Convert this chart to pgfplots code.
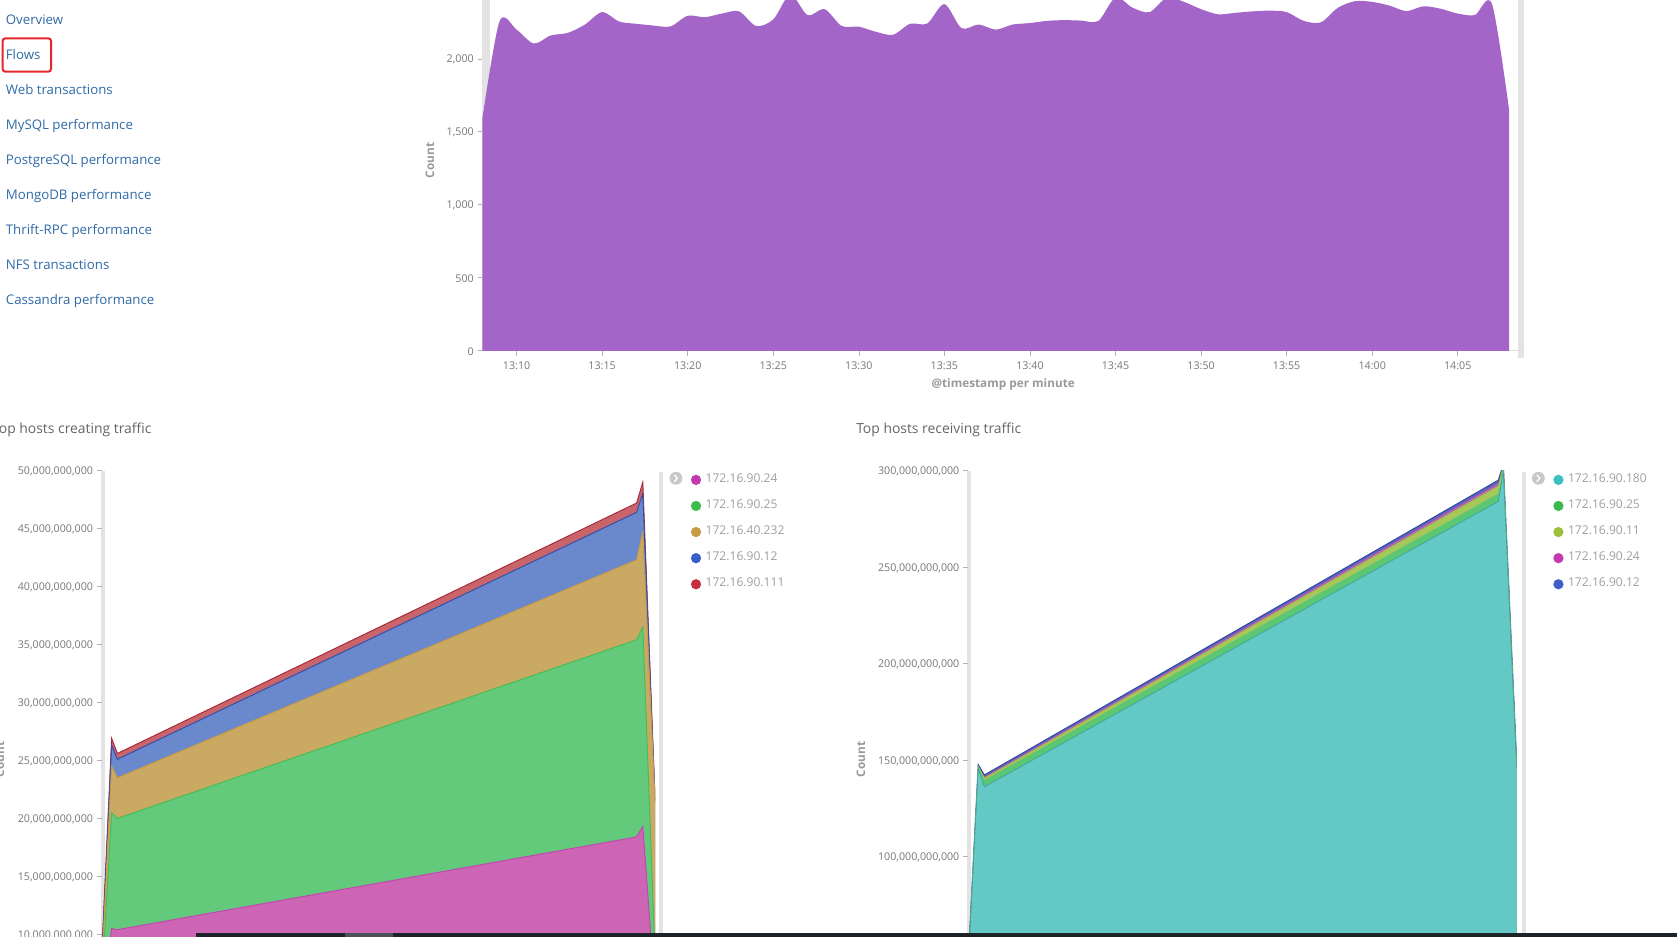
\documentclass[border=0pt]{standalone}
\usepackage{pgfplots}
\pgfplotsset{compat=1.18}
\usepackage{pgfplotstable}
\usepackage{fontspec}
\setmainfont{Open Sans}

\definecolor{linkblue}{HTML}{306BA8}
\definecolor{boxred}{HTML}{E5262B}
\definecolor{titlegray}{HTML}{666666}
\definecolor{tickgray}{HTML}{777777}
\definecolor{axtitlegray}{HTML}{9A9A9A}
\definecolor{legendgray}{HTML}{A0A0A0}
\definecolor{stripgray}{HTML}{E3E3E3}
\definecolor{iconring}{HTML}{C8C8C8}
\definecolor{darkbar}{HTML}{1F2428}
\definecolor{scrollgray}{HTML}{4A5257}
\definecolor{kpurple}{HTML}{A366C8}
% creating traffic
\definecolor{apink}{HTML}{CC66B4}\definecolor{lpink}{HTML}{C23AB0}
\definecolor{agreen}{HTML}{63CA7C}\definecolor{lgreen}{HTML}{3DBB4B}
\definecolor{atan}{HTML}{CAA963}\definecolor{ltan}{HTML}{C99A45}
\definecolor{ablue}{HTML}{6A88CC}\definecolor{lblue}{HTML}{3A5EC9}
\definecolor{ared}{HTML}{CA646B}\definecolor{lred}{HTML}{C4303F}
% receiving traffic
\definecolor{ateal}{HTML}{64C9C5}\definecolor{lteal}{HTML}{3BBFBF}
\definecolor{agreen2}{HTML}{5CC672}\definecolor{lgreen2}{HTML}{3DB84D}
\definecolor{ayg}{HTML}{A6C75A}\definecolor{lyg}{HTML}{9BC13C}
\definecolor{apink2}{HTML}{C062B4}\definecolor{lpink2}{HTML}{C23AB0}
\definecolor{ablue2}{HTML}{6660BE}\definecolor{lblue2}{HTML}{3C5FC8}

\newcommand\sidefont{\fontsize{12.4}{14}\selectfont}
\newcommand\titlefont{\fontsize{13}{15}\selectfont}
\newcommand\tickfont{\fontsize{10}{12}\selectfont}
\newcommand\axtitlefont{\fontsize{11}{13}\selectfont\bfseries}
\newcommand\legfont{\fontsize{11.3}{13}\selectfont}

\pgfplotstableread{
m v
8 1590
9 2255
10 2200
11 2105
12 2160
13 2178
14 2235
15 2320
16 2255
17 2240
18 2228
19 2222
20 2295
21 2285
22 2310
23 2325
24 2225
25 2270
26 2440
27 2300
28 2340
29 2225
30 2220
31 2185
32 2165
33 2240
34 2242
35 2375
36 2210
37 2235
38 2200
39 2235
40 2245
41 2260
42 2265
43 2262
44 2260
45 2420
46 2350
47 2320
48 2420
49 2390
50 2340
51 2305
52 2315
53 2325
54 2330
55 2320
56 2260
57 2250
58 2350
59 2395
60 2390
61 2365
62 2327
63 2360
64 2343
65 2310
66 2300
67 2375
68 1650
}\flows

% cumulative tops, in billions
\pgfplotstableread{
m pink green tan blue red
8.00 4.0 5.5 7.0 7.6 8.0
9.09 10.5 20.5 24.5 26.3 26.9
9.71 10.4 20.0 23.5 25.1 25.6
66.00 18.4 35.4 42.3 46.4 47.2
66.67 19.3 36.5 44.7 48.0 49.0
68.00 5.0 8.0 21.4 21.5 21.6
}\creating

\pgfplotstableread{
m teal green yg pink blue
8.00 40 41 41.5 42 43
9.13 145.5 146.3 146.7 147.0 147.6
9.80 136.2 139.7 140.6 141.3 142.3
66.00 284.0 288.0 292.0 293.3 295.0
66.55 299.5 301.0 302.0 302.5 303.0
68.00 146 147 148 149 150
}\receiving

\pgfplotsset{
  kib/.style={
    scale only axis,
    axis lines*=left,
    y axis line style={draw=none},
    tick align=outside,
    major tick length=4.5pt,
    every tick/.style={draw=black!30, line width=0.6pt},
    tick label style={font=\tickfont, text=tickgray},
    ylabel style={font=\axtitlefont, text=axtitlegray},
    xlabel style={font=\axtitlefont, text=axtitlegray},
    legend image code/.code={\fill[##1, draw=none] (0pt,0pt) circle (4.8pt); \path (8.8pt,0pt);},
    legend style={draw=none, fill=none, inner sep=0pt, outer sep=0pt,
      row sep=13.4pt, column sep=0pt, font=\legfont, text=legendgray,
      anchor=north west, nodes={inner sep=0pt, text height=8pt, text depth=3pt}},
    legend cell align=left,
  }
}

\begin{document}
\begin{tikzpicture}[x=1pt,y=1pt]
\useasboundingbox (0,0) rectangle (1568,876);
\fill[white] (0,0) rectangle (1568,876);

% sidebar links
\foreach \t/\yy in {Overview/18.1, Flows/50.8, Web transactions/83.5, MySQL performance/116.3, PostgreSQL performance/149, MongoDB performance/181.7, Thrift-RPC performance/214.4, NFS transactions/247.1, Cassandra performance/279.9}
  \node[anchor=base west, inner sep=0pt, text=linkblue, font=\sidefont] at (5.3,{876-\yy-4.43}) {\t};
\draw[boxred, line width=1.9pt, rounded corners=2.5pt] (2.5,{876-35.8}) rectangle (47.7,{876-67});

% panel titles
\node[anchor=base west, inner sep=0pt, text=titlegray, font=\titlefont] at (-7.5,{876-401-4.6}) {Top hosts creating traffic};
\node[anchor=base west, inner sep=0pt, text=titlegray, font=\titlefont] at (800.4,{876-401-4.6}) {Top hosts receiving traffic};

% axis strips and separators
\fill[stripgray] (451,548) rectangle (458,876);
\fill[stripgray] (1419,541) rectangle (1425,876);
\fill[stripgray] (94,0) rectangle (98,436);
\fill[stripgray] (616,0) rectangle (620,435);
\fill[stripgray] (904,0) rectangle (908,436);
\fill[stripgray] (1423,0) rectangle (1427,435);

% ---------- top chart ----------
\begin{axis}[kib, at={(451pt,548pt)}, anchor=south west,
  width=972.8pt, height=328pt,
  xmin=8, xmax=68.8, ymin=0, ymax=2403,
  x axis line style={draw=black!12, line width=0.8pt},
  xtick={10,15,...,65},
  xticklabels={13:10,13:15,13:20,13:25,13:30,13:35,13:40,13:45,13:50,13:55,14:00,14:05},
  xticklabel style={yshift=-2pt},
  ytick={0,500,1000,1500,2000},
  yticklabels={0,500,{1,000},{1,500},{2,000}},
  yticklabel style={yshift=-0.8pt},
  xlabel={@timestamp per minute}, ylabel={Count},
  xlabel style={at={(axis description cs:0.5006,-0.0945)}, anchor=center},
  ylabel style={at={(axis description cs:-0.0504,0.5427)}, anchor=center},
]
\addplot[fill=kpurple, draw=none, smooth] table[x=m,y=v]{\flows} \closedcycle;
\end{axis}

% ---------- bottom left ----------
\begin{axis}[kib, at={(95pt,0pt)}, anchor=south west,
  width=517.5pt, height=436pt,
  xmin=8, xmax=68, ymin=9.78, ymax=50,
  x axis line style={draw=none}, xtick=\empty,
  ytick={10,15,...,50},
  yticklabels={{10,000,000,000},{15,000,000,000},{20,000,000,000},{25,000,000,000},{30,000,000,000},{35,000,000,000},{40,000,000,000},{45,000,000,000},{50,000,000,000}},
  yticklabel style={yshift=-0.8pt},
  ylabel={Count},
  ylabel style={at={(axis description cs:-0.1836,0.3807)}, anchor=center},
  legend style={at={(axis description cs:1.0647,0.9927)}},
]
\addplot[fill=ared, draw=none, forget plot] table[x=m,y=red]{\creating} \closedcycle;
\addplot[lred!85!black, line width=0.9pt, forget plot] table[x=m,y=red]{\creating};
\addplot[fill=ablue, draw=none, forget plot] table[x=m,y=blue]{\creating} \closedcycle;
\addplot[lblue!85!black, line width=0.9pt, forget plot] table[x=m,y=blue]{\creating};
\addplot[fill=atan, draw=none, forget plot] table[x=m,y=tan]{\creating} \closedcycle;
\addplot[ltan, line width=0.9pt, forget plot] table[x=m,y=tan]{\creating};
\addplot[fill=agreen, draw=none, forget plot] table[x=m,y=green]{\creating} \closedcycle;
\addplot[lgreen!80!agreen, line width=0.9pt, forget plot] table[x=m,y=green]{\creating};
\addplot[fill=apink, draw=none, forget plot] table[x=m,y=pink]{\creating} \closedcycle;
\addplot[lpink!80!apink, line width=0.9pt, forget plot] table[x=m,y=pink]{\creating};
\addlegendimage{fill=lpink}\addlegendentry{172.16.90.24}
\addlegendimage{fill=lgreen}\addlegendentry{172.16.90.25}
\addlegendimage{fill=ltan}\addlegendentry{172.16.40.232}
\addlegendimage{fill=lblue}\addlegendentry{172.16.90.12}
\addlegendimage{fill=lred}\addlegendentry{172.16.90.111}
\end{axis}

% ---------- bottom right ----------
\begin{axis}[kib, at={(905pt,0pt)}, anchor=south west,
  width=513pt, height=436pt,
  xmin=8, xmax=68, ymin=58.45, ymax=300,
  x axis line style={draw=none}, xtick=\empty,
  ytick={100,150,...,300},
  yticklabels={{100,000,000,000},{150,000,000,000},{200,000,000,000},{250,000,000,000},{300,000,000,000}},
  yticklabel style={yshift=-0.8pt},
  ylabel={Count},
  ylabel style={at={(axis description cs:-0.1949,0.3807)}, anchor=center},
  legend style={at={(axis description cs:1.0669,0.9927)}},
]
\addplot[fill=ablue2, draw=none, forget plot] table[x=m,y=blue]{\receiving} \closedcycle;
\addplot[lblue2!80!black, line width=1pt, forget plot] table[x=m,y=blue]{\receiving};
\addplot[fill=apink2, draw=none, forget plot] table[x=m,y=pink]{\receiving} \closedcycle;
\addplot[fill=ayg, draw=none, forget plot] table[x=m,y=yg]{\receiving} \closedcycle;
\addplot[lyg, line width=0.6pt, forget plot] table[x=m,y=yg]{\receiving};
\addplot[fill=agreen2, draw=none, forget plot] table[x=m,y=green]{\receiving} \closedcycle;
\addplot[fill=ateal, draw=none, forget plot] table[x=m,y=teal]{\receiving} \closedcycle;
\addplot[lteal!85!black, line width=0.6pt, forget plot] table[x=m,y=teal]{\receiving};
\addlegendimage{fill=lteal}\addlegendentry{172.16.90.180}
\addlegendimage{fill=lgreen2}\addlegendentry{172.16.90.25}
\addlegendimage{fill=lyg}\addlegendentry{172.16.90.11}
\addlegendimage{fill=lpink2}\addlegendentry{172.16.90.24}
\addlegendimage{fill=lblue2}\addlegendentry{172.16.90.12}
\end{axis}

% legend toggle icons
\foreach \cx in {632,1438.4}{
  \fill[iconring] (\cx,{876-447.2}) circle (6);
  \draw[white, line width=1.3pt, line cap=round, line join=round] ({\cx-1.3},{876-444.2}) -- ({\cx+1.3},{876-447.2}) -- ({\cx-1.3},{876-450.2});
}

% bottom dark bar
\fill[darkbar] (183,0) rectangle (1568,3.4);
\fill[scrollgray] (323,0) rectangle (367,3.4);
\end{tikzpicture}
\end{document}
